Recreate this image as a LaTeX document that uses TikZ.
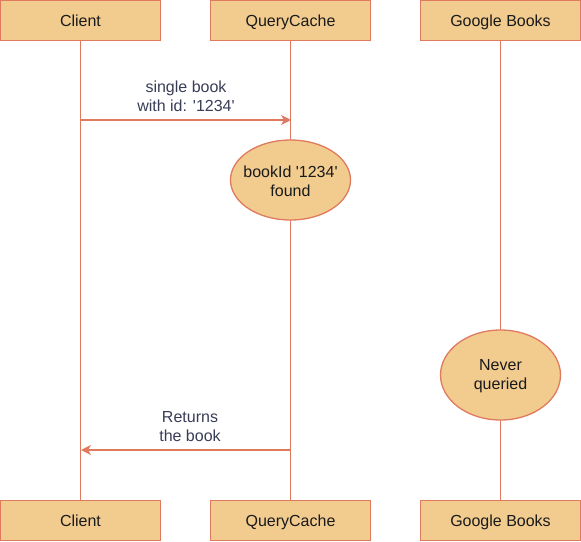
\documentclass[tikz,border=0pt]{standalone}
\usepackage{fontspec}
\setmainfont{Liberation Sans}[Ligatures=TeXOff]
\usetikzlibrary{arrows.meta,shapes.geometric}
\definecolor{boxfill}{HTML}{F2CC8F}
\definecolor{boxline}{HTML}{E07A5F}
\definecolor{nodetext}{HTML}{1A1A1A}
\definecolor{labeltext}{HTML}{393C56}
\begin{document}
\begin{tikzpicture}[x=1pt,y=-1pt,
  font=\fontsize{16}{19.2}\selectfont,
  actor/.style={draw=boxline,fill=boxfill,line width=1.3pt,minimum width=160pt,minimum height=40pt,inner sep=0pt,text=nodetext,text height=12.5pt,text depth=1pt},
  note/.style={ellipse,draw=boxline,fill=boxfill,line width=1.3pt,inner sep=0pt},
  notetext/.style={text=nodetext,align=center,inner sep=0pt,yshift=-1.5pt},
  life/.style={draw=boxline,line width=1.3pt},
  msg/.style={draw=boxline,line width=1.3pt,-{Stealth[length=10pt,width=10pt,inset=3pt]}},
  lbl/.style={text=labeltext,align=center,inner sep=0pt,yshift=-1.5pt}]
\useasboundingbox (0,0) rectangle (581,541);
\node[actor] (c1) at (80.5,20.5) {Client};
\node[actor] (q1) at (290.5,20.5) {QueryCache};
\node[actor] (g1) at (500.5,20.5) {Google Books};
\node[actor] (c2) at (80.5,520.5) {Client};
\node[actor] (q2) at (290.5,520.5) {QueryCache};
\node[actor] (g2) at (500.5,520.5) {Google Books};
\draw[life] (c1.south) -- (c2.north);
\draw[life] (q1.south) -- (q2.north);
\draw[life] (g1.south) -- (g2.north);
\node[note,minimum width=120pt,minimum height=80pt] (e1) at (290.5,180) {};
\node[notetext] (t1) at (e1.center) {bookId '1234'\\found};
\node[note,minimum width=120pt,minimum height=90pt] (e2) at (500.5,375) {};
\node[notetext] (t2) at (e2.center) {Never\\queried};
\coordinate (a1s) at (81,120);
\coordinate (a1e) at (291,120);
\draw[msg] (a1s) -- (a1e);
\node[lbl] (l1) at (186,95) {single book\\with id: '1234'};
\coordinate (a2s) at (291,450);
\coordinate (a2e) at (81,450);
\draw[msg] (a2s) -- (a2e);
\node[lbl] (l2) at (190,425) {Returns\\the book};
\end{tikzpicture}
\end{document}
